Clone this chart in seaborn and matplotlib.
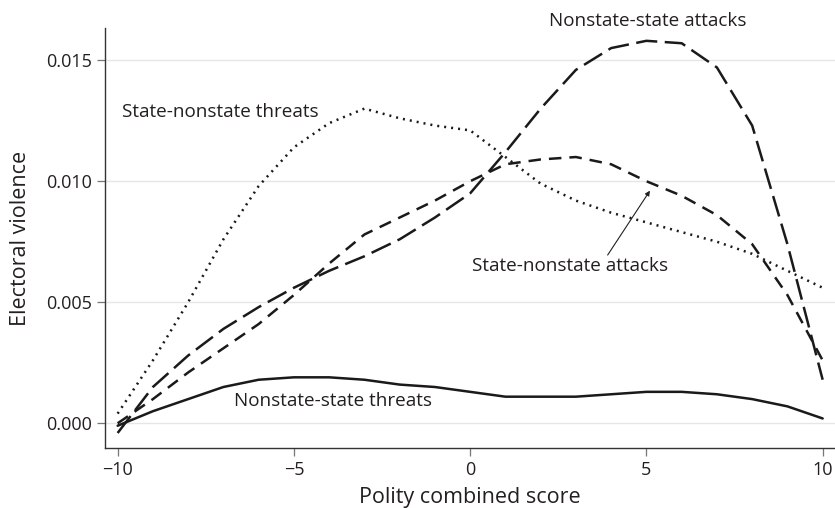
import numpy as np
import pandas as pd
import matplotlib
matplotlib.use("Agg")
import matplotlib.pyplot as plt
import seaborn as sns

polity = list(range(-10, 11))

state_nonstate_threats = [0.0004, 0.0026, 0.0050, 0.0076, 0.0098, 0.0114, 0.0124, 0.0130,
                          0.0126, 0.0123, 0.0121, 0.0110, 0.0099, 0.0092, 0.0087, 0.0083,
                          0.0079, 0.0075, 0.0070, 0.0063, 0.0056]
nonstate_state_attacks = [-0.0004, 0.0015, 0.0028, 0.0039, 0.0048, 0.0056, 0.0063, 0.0069,
                          0.0076, 0.0085, 0.0095, 0.0112, 0.0130, 0.0146, 0.0155, 0.0158,
                          0.0157, 0.0147, 0.0123, 0.0074, 0.0018]
state_nonstate_attacks = [0.0000, 0.0010, 0.0021, 0.0031, 0.0041, 0.0053, 0.0066, 0.0078,
                          0.0085, 0.0092, 0.0100, 0.0107, 0.0109, 0.0110, 0.0107, 0.0100,
                          0.0094, 0.0086, 0.0074, 0.0053, 0.0026]
nonstate_state_threats = [-0.0001, 0.0005, 0.0010, 0.0015, 0.0018, 0.0019, 0.0019, 0.0018,
                          0.0016, 0.0015, 0.0013, 0.0011, 0.0011, 0.0011, 0.0012, 0.0013,
                          0.0013, 0.0012, 0.0010, 0.0007, 0.0002]

series_names = ["State-nonstate threats", "Nonstate-state attacks",
                "State-nonstate attacks", "Nonstate-state threats"]
series_values = [state_nonstate_threats, nonstate_state_attacks,
                 state_nonstate_attacks, nonstate_state_threats]

x_ticks = [-10, -5, 0, 5, 10]
y_ticks = [0.000, 0.005, 0.010, 0.015]

df = pd.DataFrame({
    "Polity combined score": np.tile(polity, len(series_names)),
    "Electoral violence": np.concatenate(series_values),
    "series": np.repeat(series_names, len(polity)),
})

sns.set_theme(style="white")
plt.rcParams["font.family"] = ["Open Sans", "DejaVu Sans"]

txt = "#231f20"
fig = plt.figure(figsize=(8.35, 5.08), dpi=100)
ax = fig.add_axes([0.1257, 0.1181, 0.8743, 0.8268])

dashes = {
    "State-nonstate threats": (0.8, 2.0),
    "Nonstate-state attacks": (8.5, 3.0),
    "State-nonstate attacks": (5.0, 3.2),
    "Nonstate-state threats": "",
}
palette = {k: "#1a1a1a" for k in series_names}
sns.lineplot(data=df, x="Polity combined score", y="Electoral violence",
             hue="series", style="series", dashes=dashes, palette=palette,
             linewidth=1.8, legend=False, ax=ax)

ax.set_xlim(-10.36, 10.35)
ax.set_ylim(-0.00102, 0.01633)
ax.set_xticks(x_ticks)
ax.set_xticklabels(["\u221210", "\u22125", "0", "5", "10"])
ax.set_yticks(y_ticks)
ax.set_yticklabels([f"{v:.3f}" for v in y_ticks])
ax.yaxis.grid(True, color="#e6e6e6", linewidth=1.0)
ax.xaxis.grid(False)
ax.set_axisbelow(True)

for s in ["top", "right"]:
    ax.spines[s].set_visible(False)
for s in ["left", "bottom"]:
    ax.spines[s].set_color("#333333")
    ax.spines[s].set_linewidth(1.0)

ax.tick_params(axis="both", which="major", direction="out", length=5.8, width=0.9,
               color="#777777", labelcolor=txt, labelsize=13, pad=3.5,
               bottom=True, left=True)
ax.set_xlabel("Polity combined score", fontsize=15.5, color=txt, labelpad=6)
ax.set_ylabel("Electoral violence", fontsize=15.5, color=txt, labelpad=11)

fs = 13.6
ax.text(-9.89, 0.01288, "State-nonstate threats", fontsize=fs, color=txt,
        ha="left", va="center")
ax.text(5.04, 0.0166, "Nonstate-state attacks", fontsize=fs, color=txt,
        ha="center", va="center", clip_on=False)
ax.text(2.83, 0.0065, "State-nonstate attacks", fontsize=fs, color=txt,
        ha="center", va="center")
ax.text(-3.88, 0.00093, "Nonstate-state threats", fontsize=fs, color=txt,
        ha="center", va="center")
ax.annotate("", xy=(5.10, 0.00961), xytext=(3.9, 0.00695),
            arrowprops=dict(arrowstyle="-|>", color=txt, lw=0.8,
                            mutation_scale=7, shrinkA=0, shrinkB=0))

fig.savefig("out.png", dpi=100)
